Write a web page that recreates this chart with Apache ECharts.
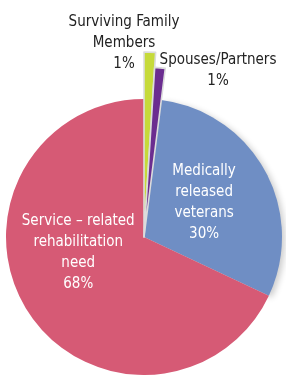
<!DOCTYPE html>
<html>
<head>
<meta charset="utf-8">
<script src="https://cdn.jsdelivr.net/npm/echarts@6/dist/echarts.min.js"></script>
<style>
  html, body { margin: 0; padding: 0; background: #fff; }
  #chart { width: 286px; height: 375px; }
</style>
</head>
<body>
<div id="chart"></div>
<script>
// data, clockwise from 12 o'clock
var names = ['Surviving Family\nMembers', 'Spouses/Partners', 'Medically\nreleased\nveterans', 'Service \u2013 related\nrehabilitation\nneed'];
var values = [1, 1, 30, 68];
var colors = ['#c6da3a', '#6b2d90', '#6f8ec4', '#d65a75'];

var FONT = '"DejaVu Sans Condensed", "Liberation Sans Narrow", sans-serif';
var CX = 144, CY = 237;

var chart = echarts.init(document.getElementById('chart'));

var mainData = values.map(function (v, i) {
  var item = { name: names[i], value: v, itemStyle: { color: colors[i] } };
  if (i < 2) {
    item.label = { position: 'outside', color: '#222', overflow: 'none' };
    item.labelLine = { show: false };
  }
  if (i == 2) {
    item.itemStyle.shadowBlur = 6;
    item.itemStyle.shadowOffsetX = 3;
    item.itemStyle.shadowOffsetY = 2;
    item.itemStyle.shadowColor = 'rgba(0,0,0,0.2)';
  }
  return item;
});

// thin slices stick out of the pie
function overlay(idx, r) {
  return {
    type: 'pie',
    center: [CX, CY],
    radius: [0, r],
    startAngle: 90,
    silent: true,
    animation: false,
    label: { show: false },
    labelLine: { show: false },
    z: 3,
    data: values.map(function (v, i) {
      return {
        name: names[i], value: v,
        itemStyle: i === idx
          ? { color: colors[i], borderColor: '#dcdcdc', borderWidth: 1.6 }
          : { color: 'rgba(0,0,0,0)' }
      };
    })
  };
}

chart.setOption({
  animation: false,
  series: [
    {
      type: 'pie',
      center: [CX, CY],
      radius: [0, 138],
      startAngle: 90,
      z: 2,
      label: {
        show: true,
        position: 'inside',
        formatter: '{b}\n{c}%',
        fontFamily: FONT,
        fontSize: 15,
        lineHeight: 21,
        color: '#fff',
        align: 'center'
      },
      labelLine: { length: 0, length2: 0 },
      labelLayout: function (p) {
        // outside labels sit above the thin slices
        if (p.dataIndex === 0) return { x: CX - 20, y: CY - 194, align: 'center', verticalAlign: 'middle' };
        if (p.dataIndex === 1) return { x: CX + 74, y: CY - 166, align: 'center', verticalAlign: 'middle' };
        if (p.dataIndex === 2) return { dx: -3, dy: 0 };
        return { dx: -5, dy: -23 };
      },
      data: mainData
    },
    overlay(0, 185),
    overlay(1, 170)
  ]
});
</script>
</body>
</html>
